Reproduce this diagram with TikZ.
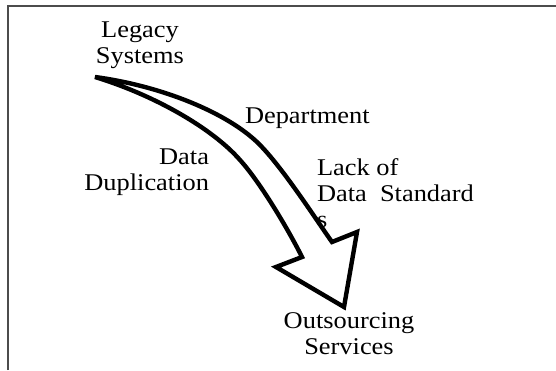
\documentclass[tikz,border=0pt]{standalone}
\usepackage{fontspec}
\setmainfont{Liberation Serif}[FakeStretch=1.1]
\begin{document}
\begin{tikzpicture}[x=1pt,y=-1pt,
  label/.style={inner sep=0pt,outer sep=0pt,font=\fontsize{24}{26}\selectfont},
  frame/.style={draw=black!70,line width=2pt},
  bigarrow/.style={draw=black,fill=white,line width=4.4pt,line join=miter}]
  \useasboundingbox (0,0) rectangle (556,370);
  % open frame: top and left sides only
  \draw[frame] (8,370) -- (8,6) -- (556,6);

  % labels (base anchor = baseline of the last line)
  \node[label,align=center,anchor=base] (legacy) at (140,63) {Legacy\\Systems};
  \node[label,anchor=base west] (dept) at (245,123) {Department};
  \node[label,align=right,anchor=base east] (dup) at (209,190) {Data\\Duplication};
  \node[label,align=left,anchor=base west] (lack) at (317,227) {Lack of\\Data\ \ Standard\\s};
  \node[label,align=center,anchor=base] (out) at (349,354) {Outsourcing\\Services};

  % curved block arrow from the legacy systems down to outsourcing
  \coordinate (tail) at (95,77);
  \coordinate (outmid) at (259,144);
  \coordinate (rnotch) at (332,242);
  \coordinate (rbarb) at (357,232);
  \coordinate (tip) at (344,307);
  \coordinate (lbarb) at (276,267);
  \coordinate (lnotch) at (302,257);
  \coordinate (inmid) at (240,160);
  \filldraw[bigarrow]
    (tail) .. controls (162,86) and (228,113) .. (outmid)
           .. controls (283,168) and (317,221) .. (rnotch)
    -- (rbarb) -- (tip) -- (lbarb) -- (lnotch)
           .. controls (288,229) and (260,182) .. (inmid)
           .. controls (212,128) and (154,95) .. (tail)
    -- cycle;
\end{tikzpicture}
\end{document}
